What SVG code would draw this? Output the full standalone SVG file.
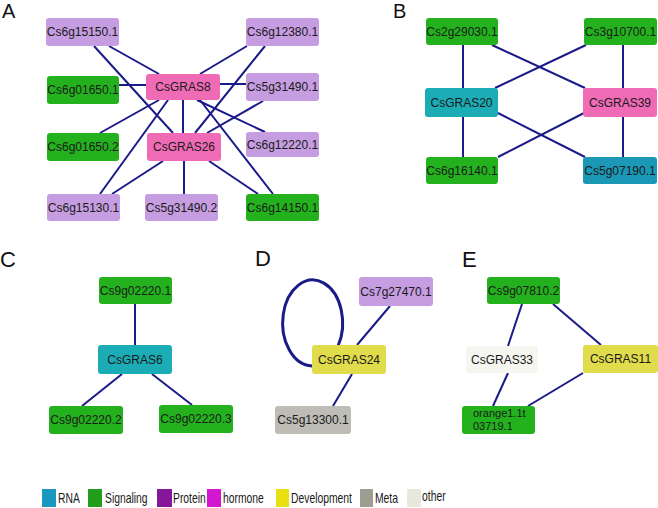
<svg xmlns="http://www.w3.org/2000/svg" width="658" height="508" viewBox="0 0 658 508">
<style>
text{font-family:"Liberation Sans",Arial,sans-serif;fill:#1a1a1a}
.n text{font-size:12px;text-anchor:middle}
.n text.ml{font-size:11px;text-anchor:start}
.pl{font-size:20px;fill:#111}
.pl2{font-size:22px;fill:#111}
.e line,.e path{stroke:#1a1a88;stroke-width:2;fill:none}
.pur{fill:#c59de0}
.grn{fill:#23b11d}
.pnk{fill:#ef6bb6}
.tea{fill:#1cacb5}
.blu{fill:#1b98b6}
.yel{fill:#e0dc4c}
.gry{fill:#bebdb5}
.wht{fill:#f6f6f0}
.lg text{font-size:14px}
</style>
<rect width="658" height="508" fill="#fff"/>
<text class="pl" x="2" y="18">A</text>
<text class="pl" x="393" y="18">B</text>
<text class="pl2" x="0" y="267">C</text>
<text class="pl2" x="255" y="266">D</text>
<text class="pl2" x="462" y="267">E</text>
<g id="connectors" class="e">
<line x1="109" y1="46" x2="159" y2="74"/>
<line x1="94" y1="46" x2="173" y2="133"/>
<line x1="247" y1="46" x2="200" y2="74"/>
<line x1="265" y1="46" x2="195" y2="133"/>
<line x1="119" y1="85" x2="146" y2="85"/>
<line x1="220" y1="84" x2="246" y2="84"/>
<line x1="263" y1="101" x2="207" y2="133"/>
<line x1="159" y1="100" x2="100" y2="133"/>
<line x1="168" y1="100" x2="100" y2="194"/>
<line x1="183" y1="100" x2="183" y2="133"/>
<line x1="197" y1="100" x2="265" y2="132"/>
<line x1="200" y1="100" x2="273" y2="194"/>
<line x1="163" y1="161" x2="112" y2="194"/>
<line x1="184" y1="161" x2="184" y2="194"/>
<line x1="209" y1="161" x2="258" y2="194"/>
<line x1="463" y1="45" x2="463" y2="88"/>
<line x1="492" y1="45" x2="585" y2="88"/>
<line x1="586" y1="45" x2="495" y2="88"/>
<line x1="623" y1="45" x2="623" y2="88"/>
<line x1="463" y1="117" x2="463" y2="157"/>
<line x1="498" y1="113" x2="585" y2="157"/>
<line x1="584" y1="113" x2="498" y2="157"/>
<line x1="623" y1="117" x2="623" y2="157"/>
<line x1="135" y1="304" x2="135" y2="345"/>
<line x1="122" y1="374" x2="82" y2="406"/>
<line x1="152" y1="374" x2="192" y2="405"/>
<line x1="390" y1="306" x2="357" y2="345"/>
<line x1="352" y1="374" x2="333" y2="406"/>
<path d="M338 346 A30 43 0 1 0 312 366" style="stroke-width:3"/>
<line x1="522" y1="304" x2="508" y2="346"/>
<line x1="553" y1="304" x2="601" y2="345"/>
<line x1="508" y1="373" x2="493" y2="406"/>
<line x1="583" y1="373" x2="528" y2="406"/>
</g>
<g class="n">
<g id="n_Cs6g15150_1"><rect class="pur" x="46" y="18" width="73" height="28" rx="3"/><text x="82.5" y="36.3">Cs6g15150.1</text></g>
<g id="n_Cs6g12380_1"><rect class="pur" x="246" y="18" width="73" height="28" rx="3"/><text x="282.5" y="36.3">Cs6g12380.1</text></g>
<g id="n_Cs6g01650_1"><rect class="grn" x="47" y="76" width="72" height="28" rx="3"/><text x="83" y="94.3">Cs6g01650.1</text></g>
<g id="n_CsGRAS8"><rect class="pnk" x="146" y="74" width="74" height="26" rx="3"/><text x="183" y="91.3">CsGRAS8</text></g>
<g id="n_Cs5g31490_1"><rect class="pur" x="246" y="73" width="73" height="28" rx="3"/><text x="282.5" y="91.3">Cs5g31490.1</text></g>
<g id="n_Cs6g01650_2"><rect class="grn" x="47" y="133" width="72" height="28" rx="3"/><text x="83" y="151.3">Cs6g01650.2</text></g>
<g id="n_CsGRAS26"><rect class="pnk" x="147" y="133" width="74" height="28" rx="3"/><text x="184" y="151.3">CsGRAS26</text></g>
<g id="n_Cs6g12220_1"><rect class="pur" x="246" y="132" width="73" height="25" rx="3"/><text x="282.5" y="148.8">Cs6g12220.1</text></g>
<g id="n_Cs6g15130_1"><rect class="pur" x="47" y="194" width="73" height="27" rx="3"/><text x="83.5" y="211.8">Cs6g15130.1</text></g>
<g id="n_Cs5g31490_2"><rect class="pur" x="145" y="194" width="73" height="27" rx="3"/><text x="181.5" y="211.8">Cs5g31490.2</text></g>
<g id="n_Cs6g14150_1"><rect class="grn" x="246" y="194" width="73" height="27" rx="3"/><text x="282.5" y="211.8">Cs6g14150.1</text></g>
<g id="n_Cs2g29030_1"><rect class="grn" x="426" y="18" width="72" height="27" rx="3"/><text x="462" y="35.8">Cs2g29030.1</text></g>
<g id="n_Cs3g10700_1"><rect class="grn" x="584" y="18" width="73" height="27" rx="3"/><text x="620.5" y="35.8">Cs3g10700.1</text></g>
<g id="n_CsGRAS20"><rect class="tea" x="425" y="88" width="73" height="29" rx="3"/><text x="461.5" y="106.8">CsGRAS20</text></g>
<g id="n_CsGRAS39"><rect class="pnk" x="583" y="88" width="74" height="29" rx="3"/><text x="620" y="106.8">CsGRAS39</text></g>
<g id="n_Cs6g16140_1"><rect class="grn" x="426" y="157" width="72" height="27" rx="3"/><text x="462" y="174.8">Cs6g16140.1</text></g>
<g id="n_Cs5g07190_1"><rect class="blu" x="583" y="157" width="74" height="27" rx="3"/><text x="620" y="174.8">Cs5g07190.1</text></g>
<g id="n_Cs9g02220_1"><rect class="grn" x="99" y="277" width="73" height="27" rx="3"/><text x="135.5" y="294.8">Cs9g02220.1</text></g>
<g id="n_CsGRAS6"><rect class="tea" x="98" y="345" width="74" height="29" rx="3"/><text x="135" y="363.8">CsGRAS6</text></g>
<g id="n_Cs9g02220_2"><rect class="grn" x="49" y="406" width="74" height="28" rx="3"/><text x="86" y="424.3">Cs9g02220.2</text></g>
<g id="n_Cs9g02220_3"><rect class="grn" x="159" y="405" width="74" height="28" rx="3"/><text x="196" y="423.3">Cs9g02220.3</text></g>
<g id="n_Cs7g27470_1"><rect class="pur" x="359" y="277" width="74" height="29" rx="3"/><text x="396" y="295.8">Cs7g27470.1</text></g>
<g id="n_CsGRAS24"><rect class="yel" x="312" y="345" width="74" height="29" rx="3"/><text x="349" y="363.8">CsGRAS24</text></g>
<g id="n_Cs5g13300_1"><rect class="gry" x="275" y="406" width="76" height="28" rx="3"/><text x="313" y="424.3">Cs5g13300.1</text></g>
<g id="n_Cs9g07810_2"><rect class="grn" x="487" y="277" width="73" height="27" rx="3"/><text x="523.5" y="294.8">Cs9g07810.2</text></g>
<g id="n_CsGRAS33"><rect class="wht" x="466" y="346" width="72" height="27" rx="3"/><text x="502" y="363.8">CsGRAS33</text></g>
<g id="n_CsGRAS11"><rect class="yel" x="583" y="345" width="75" height="28" rx="3"/><text x="620.5" y="363.3">CsGRAS11</text></g>
<g id="n_orange1_1t03719_1"><rect class="grn" x="462" y="406" width="73" height="28" rx="3"/><text class="ml" x="473" y="417"><tspan x="473" y="417">orange1.1t</tspan><tspan x="473" y="429.5">03719.1</tspan></text></g>
</g>
<g id="legend" class="lg">
<rect x="42" y="489" width="14" height="18" fill="#1b98c0"/><text transform="translate(58,503) scale(0.74,1)">RNA</text>
<rect x="88" y="489" width="14" height="18" fill="#229e1c"/><text transform="translate(105,503) scale(0.74,1)">Signaling</text>
<rect x="157" y="489" width="15" height="18" fill="#86169c"/><text transform="translate(173,503) scale(0.74,1)">Protein</text>
<rect x="207" y="489" width="14" height="18" fill="#d316d0"/><text transform="translate(223,503) scale(0.74,1)">hormone</text>
<rect x="276" y="489" width="13" height="18" fill="#e8e012"/><text transform="translate(291,503) scale(0.74,1)">Development</text>
<rect x="360" y="489" width="13" height="18" fill="#9e9d92"/><text transform="translate(375,503) scale(0.74,1)">Meta</text>
<rect x="407" y="489" width="14" height="18" fill="#e8e9dc"/><text transform="translate(422,501) scale(0.74,1)">other</text>
</g>
</svg>
